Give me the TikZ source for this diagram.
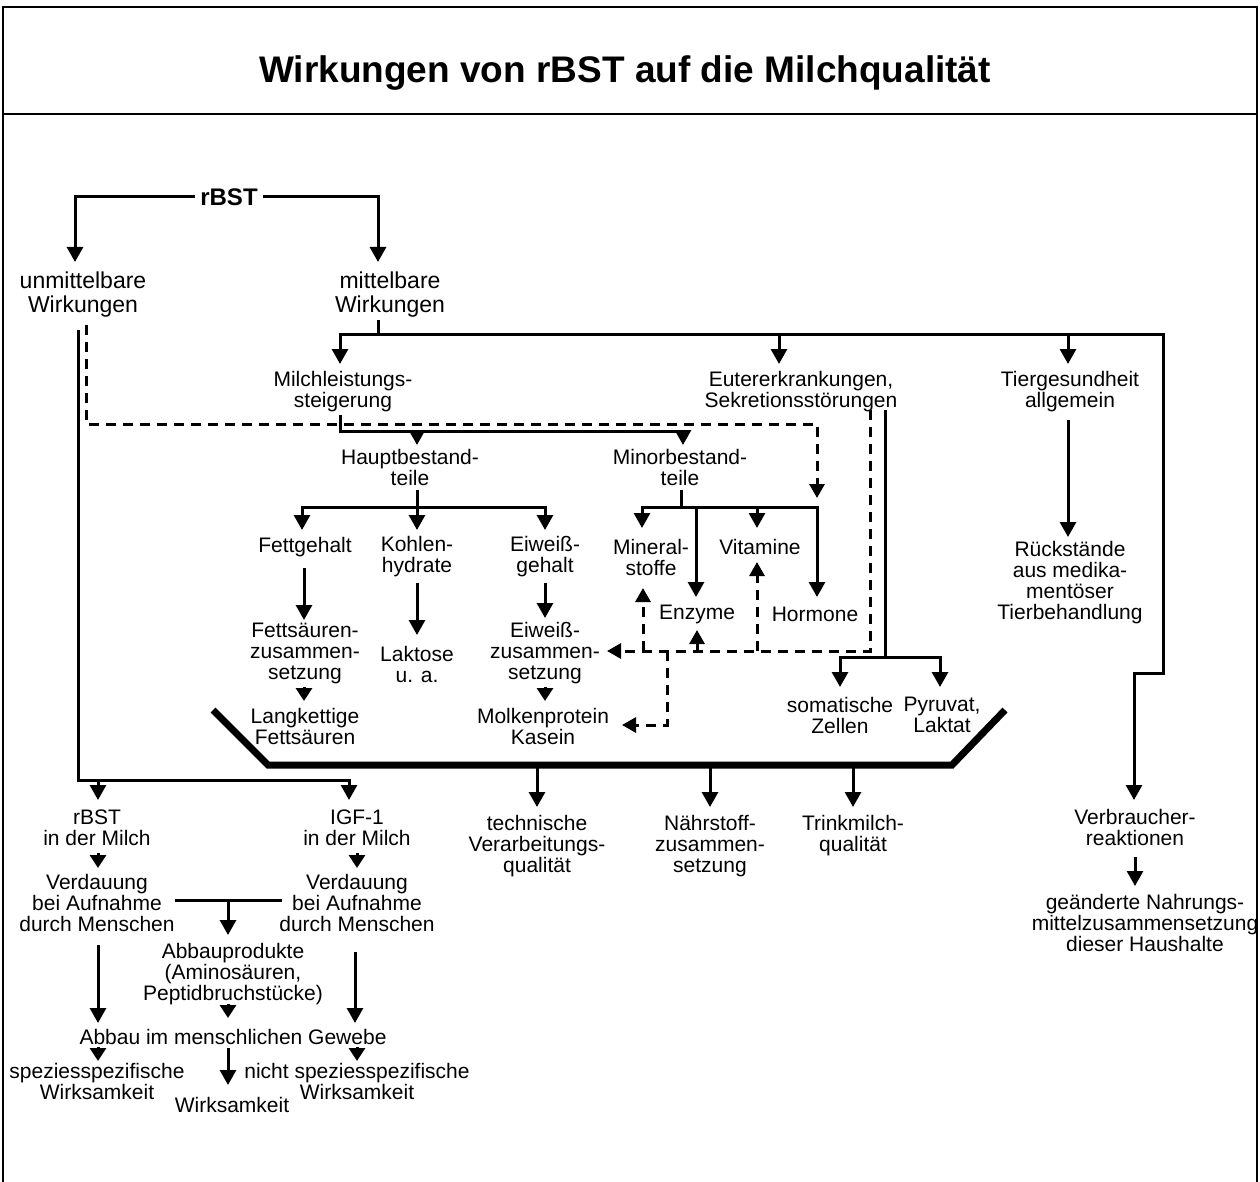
\documentclass[tikz,border=0pt]{standalone}
\usepackage{fontspec}
\setmainfont{Liberation Sans}
\usetikzlibrary{arrows.meta}
\begin{document}
\begin{tikzpicture}[x=1pt,y=-1pt,
  txt/.style={align=center,inner sep=0pt,font=\fontsize{21}{21}\selectfont},
  big/.style={align=center,inner sep=0pt,font=\fontsize{23}{24}\selectfont},
  hb/.style={inner sep=0pt,inner xsep=5pt,font=\bfseries\fontsize{24}{26}\selectfont},
  ttl/.style={inner sep=0pt,font=\bfseries\fontsize{37}{40}\selectfont},
  ln/.style={line width=3pt},
  arr/.style={line width=3pt,-{Triangle[length=15pt,width=16pt]}},
  arrtwo/.style={line width=3pt,{Triangle[length=15pt,width=16pt]}-{Triangle[length=15pt,width=16pt]}},
  sarr/.style={line width=3pt,-{Triangle[length=13pt,width=16pt]}},
  dl/.style={line width=3pt,dash pattern=on 10pt off 7pt},
  darr/.style={dl,-{Triangle[length=14pt,width=15pt]}},
  bowl/.style={line width=7pt,line join=miter},
  frame/.style={line width=2pt}
]
\useasboundingbox (0,0) rectangle (1260,1182);
% frame
\draw[frame] (2.5,1183) -- (2.5,7) -- (1257,7) -- (1257,1183);
\draw[frame] (2.5,114) -- (1257,114);

% nodes
\node[ttl] (title) at (625,73) {Wirkungen von rBST auf die Milchqualität};
\node[hb] (rbst) at (229,197) {rBST};
\node[big] (unm) at (83,295) {unmittelbare\\Wirkungen};
\node[big] (mit) at (390,295) {mittelbare\\Wirkungen};
\node[txt] (mls) at (343,392) {Milchleistungs-\\steigerung};
\node[txt] (eut) at (801,392) {Eutererkrankungen,\\Sekretionsstörungen};
\node[txt] (tg) at (1070,392) {Tiergesundheit\\allgemein};
\node[txt] (haupt) at (410,467) {Hauptbestand-\\teile};
\node[txt] (minor) at (680,467) {Minorbestand-\\teile};
\node[txt] (fett) at (305,547) {Fettgehalt};
\node[txt] (kohl) at (417,557) {Kohlen-\\hydrate};
\node[txt] (eiw) at (545,557) {Eiweiß-\\gehalt};
\node[txt] (mineral) at (651,557) {Mineral-\\stoffe};
\node[txt] (vit) at (760,547) {Vitamine};
\node[txt] (enz) at (697,614) {Enzyme};
\node[txt] (horm) at (815,614) {Hormone};
\node[txt] (fsz) at (305,653) {Fettsäuren-\\zusammen-\\setzung};
\node[txt] (lak) at (417,664) {Laktose\\u. a.};
\node[txt] (ewz) at (545,653) {Eiweiß-\\zusammen-\\setzung};
\node[txt] (lang) at (305,726) {Langkettige\\Fettsäuren};
\node[txt] (molk) at (543,726) {Molkenprotein\\Kasein};
\node[txt] (som) at (840,715) {somatische\\Zellen};
\node[txt] (pyr) at (942,715) {Pyruvat,\\Laktat};
\node[txt] (tech) at (537,846) {technische\\Verarbeitungs-\\qualität};
\node[txt] (naehr) at (710,846) {Nährstoff-\\zusammen-\\setzung};
\node[txt] (trink) at (853,836) {Trinkmilch-\\qualität};
\node[txt] (rueck) at (1070,583) {Rückstände\\aus medika-\\mentöser\\Tierbehandlung};
\node[txt] (verb) at (1135,827) {Verbraucher-\\reaktionen};
\node[txt] (geaend) at (1145,923) {geänderte Nahrungs-\\mittelzusammensetzung\\dieser Haushalte};
\node[txt] (rbstm) at (97,828) {rBST\\in der Milch};
\node[txt] (igf) at (357,828) {IGF-1\\in der Milch};
\node[txt] (verdl) at (97,903) {Verdauung\\bei Aufnahme\\durch Menschen};
\node[txt] (verdr) at (357,903) {Verdauung\\bei Aufnahme\\durch Menschen};
\node[txt] (abbp) at (233,974) {Abbauprodukte\\(Aminosäuren,\\Peptidbruchstücke)};
\node[txt] (abbg) at (233,1037) {Abbau im menschlichen Gewebe};
\node[txt] (spl) at (97,1081) {speziesspezifische\\Wirksamkeit};
\node[txt] (spr) at (357,1081) {nicht speziesspezifische\\Wirksamkeit};
\node[txt] (wmid) at (232,1105) {Wirksamkeit};

% named coordinates
\coordinate (unmIn) at (75,262);
\coordinate (mitIn) at (378,262);
\coordinate (unmOut) at (78,330);
\coordinate (unmBus) at (98,780);
\coordinate (rbstmIn) at (98,800);
\coordinate (igfIn) at (349,800);
\coordinate (unmOutD) at (86,325);
\coordinate (minorHub) at (817,498);
\coordinate (mitOut) at (378,320);
\coordinate (mitBus) at (378,334);
\coordinate (mlsIn) at (340,364);
\coordinate (eutBus) at (779,334);
\coordinate (eutIn) at (779,364);
\coordinate (tgBus) at (1068,334);
\coordinate (tgIn) at (1068,364);
\coordinate (verbIn) at (1134,800);
\coordinate (mlsOut) at (340,415);
\coordinate (mlsBus) at (417,431);
\coordinate (hauptIn) at (417,445);
\coordinate (minorIn) at (683,445);
\coordinate (hauptOut) at (417,490);
\coordinate (fettIn) at (302,530);
\coordinate (kohlIn) at (417,530);
\coordinate (eiwIn) at (545,530);
\coordinate (minorOut) at (681,490);
\coordinate (minorBus) at (681,507);
\coordinate (minIn) at (642,528);
\coordinate (enzBus) at (696,507);
\coordinate (enzIn) at (696,597);
\coordinate (vitBus) at (757,507);
\coordinate (vitIn) at (757,528);
\coordinate (hormIn) at (817,597);
\coordinate (eutOut) at (885,410);
\coordinate (eutOutD) at (870,410);
\coordinate (eutBus2) at (885,657);
\coordinate (somIn) at (840,687);
\coordinate (pyrIn) at (940,687);
\coordinate (ewzIn) at (607,651);
\coordinate (dMin) at (643,651);
\coordinate (dMinIn) at (643,588);
\coordinate (dEnz) at (697,651);
\coordinate (dEnzIn) at (697,630);
\coordinate (dVit) at (757,651);
\coordinate (dVitIn) at (757,562);
\coordinate (dMolk) at (667,651);
\coordinate (molkIn) at (622,725);
\coordinate (b1) at (213,710);
\coordinate (b2) at (268,765);
\coordinate (b3) at (952,765);
\coordinate (b4) at (1005,710);

% rBST split
\draw[arr] (rbst.west) -| (unmIn);
\draw[arr] (rbst.east) -| (mitIn);

% unmittelbare Wirkungen
\draw[arr] (unmOut) |- (349,780) -- (igfIn);
\draw[arr] (unmBus) -- (rbstmIn);
\draw[darr] (unmOutD) |- (817,424) -- (minorHub);

% mittelbare Wirkungen
\draw[ln] (mitOut) -- (mitBus);
\draw[arrtwo] (mlsIn) -- (340,334) -- (1163,334) -- (1163,673) -- (1134,673) -- (verbIn);
\draw[arr] (eutBus) -- (eutIn);
\draw[arr] (tgBus) -- (tgIn);

% Milchleistungssteigerung
\draw[arr] (mlsOut) |- (683,431) -- (minorIn);
\draw[arr] (mlsBus) -- (hauptIn);

% Hauptbestandteile
\draw[arrtwo] (fettIn) -- (302,507) -- (545,507) -- (eiwIn);
\draw[arr] (hauptOut) -- (kohlIn);
\draw[arr] (304,568) -- (304,620);
\draw[arr] (417,583) -- (417,635);
\draw[arr] (545,583) -- (545,618);
\draw[sarr] (304,687) -- (304,701);
\draw[sarr] (545,687) -- (545,701);

% Minorbestandteile
\draw[arrtwo] (minIn) -- (642,507) -- (817,507) -- (hormIn);
\draw[ln] (minorOut) -- (minorBus);
\draw[arr] (enzBus) -- (enzIn);
\draw[arr] (vitBus) -- (vitIn);

% Eutererkrankungen
\draw[ln] (eutOut) -- (eutBus2);
\draw[arrtwo] (somIn) -- (840,657) -- (940,657) -- (pyrIn);
\draw[darr] (eutOutD) |- (ewzIn);
\draw[darr] (dMin) -- (dMinIn);
\draw[darr] (dEnz) -- (dEnzIn);
\draw[darr] (dVit) -- (dVitIn);
\draw[darr] (dMolk) |- (molkIn);

% bowl
\draw[bowl] (b1) -- (b2) -- (b3) -- (b4);
\draw[arr] (537,765) -- (537,807);
\draw[arr] (710,765) -- (710,807);
\draw[arr] (853,765) -- (853,807);

% Tiergesundheit
\draw[arr] (1068,420) -- (1068,537);
\draw[arr] (1135,857) -- (1135,886);

% human side
\draw[sarr] (98,853) -- (98,868);
\draw[sarr] (357,853) -- (357,868);
\draw[ln] (175,900) -- (282,900);
\draw[arr] (228,900) -- (228,935);
\draw[arr] (98,945) -- (98,1023);
\draw[arr] (355,952) -- (355,1023);
\draw[sarr] (228,1004) -- (228,1018);
\draw[sarr] (98,1047) -- (98,1061);
\draw[sarr] (357,1047) -- (357,1061);
\draw[arr] (228,1048) -- (228,1085);
\end{tikzpicture}
\end{document}
